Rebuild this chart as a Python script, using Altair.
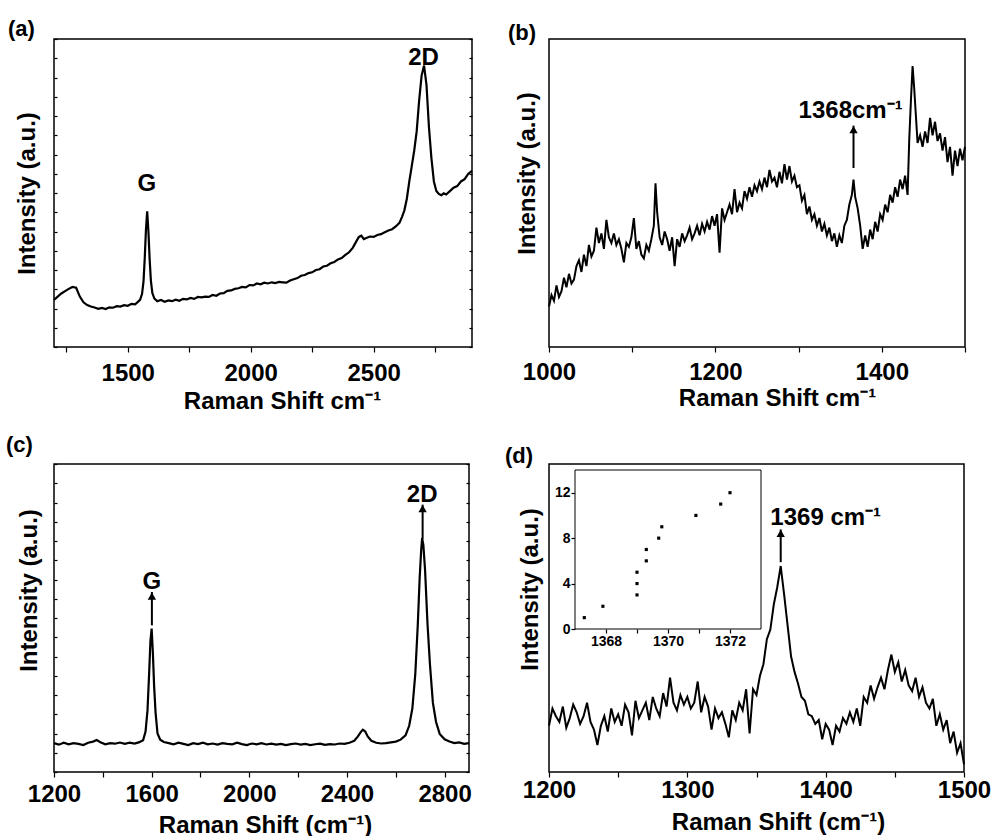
import altair as alt
import pandas as pd

FONT = "Liberation Sans"
SUP = "cm\u207b\u00b9"

# ---------------- data ----------------
A_SPEC = [(1200,2.45),(1215,2.62),(1230,2.78),(1245,2.9),(1260,3.02),(1275,3.12),(1290,3.08),(1305,2.62),
          (1320,2.32),(1335,2.18),(1350,2.1),(1365,2.05),(1380,1.98),(1395,2.03),(1410,1.97),(1425,2.06),
          (1440,2.04),(1455,2.12),(1470,2.1),(1485,2.17),(1500,2.14),(1515,2.24),(1530,2.22),(1540,2.33),
          (1550,2.45),(1558,2.75),(1564,3.4),(1569,4.6),(1574,6.1),(1579,7.05),(1584,6.0),(1589,4.55),
          (1594,3.45),(1600,2.8),(1608,2.52),(1620,2.38),(1635,2.44),(1650,2.35),(1665,2.42),(1680,2.38),
          (1695,2.46),(1710,2.4),(1725,2.5),(1740,2.47),(1755,2.55),(1770,2.5),(1785,2.6),(1800,2.58),
          (1815,2.62),(1830,2.6),(1845,2.7),(1860,2.66),(1875,2.78),(1890,2.8),(1905,2.92),(1920,2.94),
          (1935,3.02),(1950,3.05),(1965,3.12),(1980,3.1),(1995,3.22),(2010,3.2),(2025,3.3),(2040,3.26),
          (2055,3.34),(2070,3.3),(2085,3.36),(2100,3.32),(2115,3.38),(2130,3.36),(2145,3.34),(2160,3.45),
          (2175,3.52),(2190,3.58),(2205,3.7),(2220,3.74),(2235,3.84),(2250,3.88),(2265,4.0),(2280,4.04),
          (2295,4.18),(2310,4.22),(2325,4.35),(2340,4.42),(2355,4.55),(2370,4.62),(2385,4.78),(2400,4.92),
          (2415,5.15),(2430,5.5),(2440,5.72),(2450,5.78),(2460,5.6),(2470,5.66),(2485,5.74),(2500,5.72),
          (2515,5.82),(2530,5.86),(2545,5.96),(2560,6.05),(2575,6.12),(2590,6.26),(2605,6.45),(2615,6.75),
          (2625,7.1),(2635,7.7),(2645,8.6),(2655,9.4),(2665,10.2),(2675,11.2),(2685,12.8),(2695,14.1),
          (2705,14.62),(2715,13.6),(2725,11.4),(2735,9.8),(2745,8.6),(2755,8.1),(2765,7.95),(2775,7.88),
          (2785,7.98),(2795,7.92),(2810,8.1),(2825,8.28),(2840,8.36),(2855,8.6),(2870,8.72),(2885,9.0),
          (2900,9.15)]

B_SPEC = [(1000,2.1),(1003,2.7),(1006,2.4),(1009,3.2),(1012,2.6),(1015,2.9),(1018,3.6),(1021,3.1),
          (1024,3.8),(1027,3.3),(1030,3.5),(1033,4.2),(1036,4.5),(1039,3.9),(1042,4.8),(1045,4.2),
          (1048,5.3),(1051,4.7),(1054,5.0),(1057,6.2),(1060,5.4),(1063,5.9),(1066,5.1),(1069,6.6),
          (1072,5.7),(1075,5.4),(1078,5.9),(1081,5.3),(1084,5.6),(1087,5.1),(1090,4.4),(1093,5.4),
          (1096,5.2),(1099,5.7),(1102,6.7),(1105,5.1),(1108,5.5),(1111,4.8),(1114,4.6),(1117,5.3),
          (1120,5.0),(1123,5.6),(1126,6.3),(1128,8.5),(1130,7.0),(1133,5.7),(1136,5.3),(1139,6.0),
          (1142,5.6),(1145,5.0),(1148,5.7),(1151,4.2),(1154,5.6),(1157,5.2),(1160,5.9),(1163,5.5),
          (1166,5.8),(1169,6.2),(1172,5.6),(1175,5.9),(1178,6.3),(1181,5.8),(1184,6.4),(1187,6.0),
          (1190,6.5),(1193,6.1),(1196,6.8),(1199,6.3),(1202,6.9),(1205,4.9),(1208,7.2),(1211,6.6),
          (1214,7.0),(1217,7.4),(1220,6.9),(1223,8.2),(1226,7.0),(1229,7.5),(1232,7.2),(1235,8.1),
          (1238,7.7),(1241,8.3),(1244,7.8),(1247,8.4),(1250,8.1),(1253,8.6),(1256,8.2),(1259,8.8),
          (1262,8.3),(1265,9.2),(1268,8.6),(1271,8.8),(1274,8.3),(1277,9.1),(1280,8.5),(1283,9.5),
          (1286,8.7),(1289,9.4),(1292,8.6),(1295,8.9),(1298,8.3),(1301,8.4),(1304,7.6),(1307,7.9),
          (1310,6.9),(1313,7.3),(1316,6.6),(1319,6.9),(1322,6.3),(1325,6.7),(1328,6.0),(1331,6.4),
          (1334,5.8),(1337,6.2),(1340,5.5),(1343,5.9),(1346,5.2),(1349,5.8),(1352,5.4),(1355,6.3),
          (1358,6.6),(1361,7.4),(1364,7.9),(1366,8.7),(1368,7.8),(1371,7.2),(1374,6.3),(1377,5.1),
          (1380,5.8),(1383,5.2),(1386,6.1),(1389,5.6),(1392,6.5),(1395,6.0),(1398,6.9),(1401,6.6),
          (1404,7.4),(1407,7.0),(1410,7.9),(1413,7.5),(1416,8.3),(1419,7.8),(1422,8.7),(1425,8.2),
          (1428,8.9),(1431,7.9),(1433,10.8),(1435,12.8),(1437,14.6),(1439,13.4),(1441,12.0),(1443,10.6),
          (1446,11.0),(1449,10.4),(1452,11.2),(1455,10.6),(1458,11.9),(1461,11.0),(1464,11.7),(1467,10.7),
          (1470,11.1),(1473,10.2),(1476,10.9),(1479,9.6),(1482,10.4),(1485,8.9),(1488,10.2),(1491,9.4),
          (1494,10.3),(1497,9.7),(1500,10.4)]

C_SPEC = [(1200,1.5),(1220,1.42),(1240,1.52),(1260,1.44),(1280,1.5),(1300,1.46),(1320,1.4),(1340,1.52),
          (1360,1.58),(1375,1.66),(1390,1.55),(1410,1.44),(1430,1.5),(1450,1.47),(1470,1.53),(1490,1.46),
          (1510,1.52),(1530,1.48),(1550,1.55),(1565,1.65),(1575,2.1),(1583,3.2),(1590,5.2),(1595,6.8),
          (1600,7.45),(1605,6.2),(1610,4.5),(1616,3.1),(1624,2.0),(1635,1.68),(1650,1.56),(1670,1.5),
          (1690,1.44),(1710,1.52),(1730,1.46),(1750,1.4),(1770,1.5),(1790,1.45),(1810,1.52),(1830,1.44),
          (1850,1.48),(1870,1.42),(1890,1.5),(1910,1.46),(1930,1.44),(1950,1.52),(1970,1.45),(1990,1.4),
          (2010,1.48),(2030,1.44),(2050,1.5),(2070,1.43),(2090,1.47),(2110,1.42),(2130,1.46),(2150,1.4),
          (2170,1.45),(2190,1.48),(2210,1.42),(2230,1.46),(2250,1.4),(2270,1.44),(2290,1.47),(2310,1.41),
          (2330,1.45),(2350,1.43),(2370,1.48),(2390,1.46),(2410,1.52),(2430,1.62),(2445,1.85),(2455,2.05),
          (2465,2.2),(2475,2.1),(2485,1.85),(2500,1.62),(2520,1.52),(2540,1.48),(2560,1.5),(2580,1.54),
          (2600,1.58),(2620,1.68),(2640,1.9),(2655,2.4),(2668,3.3),(2680,5.1),(2690,7.6),(2698,10.1),
          (2704,11.5),(2708,12.15),(2713,11.8),(2720,10.5),(2730,7.7),(2740,5.6),(2752,3.6),(2765,2.6),
          (2780,1.98),(2800,1.7),(2820,1.58),(2840,1.5),(2860,1.54),(2880,1.46),(2900,1.5)]

D_SPEC = [(1200.0,2.4),(1202.5,3.3),(1205.0,2.9),(1207.5,2.6),(1210.0,3.4),(1212.5,2.3),(1215.0,2.8),
          (1217.5,3.5),(1220.0,3.1),(1222.5,2.5),(1225.0,2.9),(1227.5,3.6),(1230.0,2.6),(1232.5,2.2),
          (1235.0,1.4),(1237.5,2.4),(1240.0,2.9),(1242.5,2.1),(1245.0,3.3),(1247.5,2.6),(1250.0,3.0),
          (1252.5,2.4),(1255.0,3.5),(1257.5,3.1),(1260.0,1.9),(1262.5,3.7),(1265.0,2.8),(1267.5,3.2),
          (1270.0,3.6),(1272.5,2.7),(1275.0,3.9),(1277.5,3.3),(1280.0,2.9),(1282.5,4.1),(1285.0,3.4),
          (1287.5,4.9),(1290.0,3.6),(1292.5,3.2),(1295.0,4.0),(1297.5,3.5),(1300.0,3.9),(1302.5,3.3),
          (1305.0,3.6),(1307.5,4.7),(1310.0,3.1),(1312.5,3.9),(1315.0,3.4),(1317.5,2.2),(1320.0,3.3),
          (1322.5,2.8),(1325.0,3.1),(1327.5,2.5),(1330.0,1.8),(1332.5,3.2),(1335.0,2.7),(1337.5,3.6),
          (1340.0,3.2),(1342.5,4.3),(1345.0,2.0),(1347.5,4.3),(1350.0,4.0),(1352.5,5.0),(1355.0,5.6),
          (1357.5,6.9),(1360.0,7.4),(1362.5,8.7),(1365.0,9.6),(1367.5,10.7),(1370.0,9.2),(1372.5,7.6),
          (1375.0,6.0),(1377.5,5.2),(1380.0,4.6),(1382.5,3.9),(1385.0,3.7),(1387.5,3.0),(1390.0,2.9),
          (1392.5,2.5),(1395.0,2.7),(1397.5,1.7),(1400.0,2.5),(1402.5,2.2),(1405.0,1.4),(1407.5,2.4),
          (1410.0,2.1),(1412.5,2.8),(1415.0,2.5),(1417.5,3.1),(1420.0,2.6),(1422.5,3.3),(1425.0,2.4),
          (1427.5,3.9),(1430.0,3.6),(1432.5,4.5),(1435.0,3.8),(1437.5,4.4),(1440.0,4.9),(1442.5,4.3),
          (1445.0,5.3),(1447.5,6.1),(1450.0,5.2),(1452.5,5.7),(1455.0,4.7),(1457.5,5.3),(1460.0,4.5),
          (1462.5,4.2),(1465.0,4.9),(1467.5,3.9),(1470.0,4.4),(1472.5,3.6),(1475.0,3.3),(1477.5,3.8),
          (1480.0,2.4),(1482.5,3.0),(1485.0,2.2),(1487.5,2.7),(1490.0,1.5),(1492.5,2.1),(1495.0,1.0),
          (1497.5,1.5),(1500.0,0.4)]

INSET_SHIFT = [1367.3, 1367.9, 1369.0, 1369.0, 1369.0, 1369.3, 1369.3, 1369.7, 1369.8, 1370.9, 1371.7, 1372.0]
INSET_INDEX = [1, 2, 3, 4, 5, 6, 7, 8, 9, 10, 11, 12]
INSET_BOX = [{"x1": 1367, "x2": 1373, "y1": 0, "y2": 14}]

A_XTICKS = [1250, 1500, 1750, 2000, 2250, 2500, 2750]
B_XTICKS = [1000, 1100, 1200, 1300, 1400, 1500]
C_XTICKS = [1200, 1400, 1600, 1800, 2000, 2200, 2400, 2600, 2800]
D_XTICKS = [1200, 1250, 1300, 1350, 1400, 1450, 1500]
Y_TICKS = [0, 1, 2, 3, 4, 5, 6, 7, 8, 9, 10, 11, 12, 13, 14, 15, 16]
INSET_XTICKS = [1368, 1369, 1370, 1371, 1372]
INSET_YTICKS = [0, 4, 8, 12]

A_LABELS = [{"x": 1578, "y": 8.1, "text": "G"}, {"x": 2703, "y": 14.66, "text": "2D"}]
B_LABELS = [{"x": 1300, "y": 11.9, "text": "1368" + SUP}]
C_LABELS = [{"x": 1601, "y": 9.52, "text": "G"}, {"x": 2708, "y": 14.03, "text": "2D"}]
D_LABELS = [{"x": 1360, "y": 12.85, "text": "1369 " + SUP}]
B_ARROWS = [{"x": 1366, "y": 9.3, "y2": 11.5}]
C_ARROWS = [{"x": 1601, "y": 7.62, "y2": 9.35}, {"x": 2710, "y": 12.12, "y2": 13.89}]
D_ARROWS = [{"x": 1367.5, "y": 10.9, "y2": 12.6}]

# ---------------- layout ----------------
H = 308
W_A, W_B, W_C, W_D = 418, 416, 415, 415


def spec_df(pairs):
    return pd.DataFrame(pairs, columns=["x", "y"])


def x_axis(values, major, title, title_x, title_y, label_pad):
    return alt.Axis(values=values, format="d",
                    labelExpr=f"datum.value % {major} == 0 ? datum.label : ''",
                    title=title, titleX=title_x, titleY=title_y, titleBaseline="alphabetic",
                    titleAlign="center", tickSize=5, labelPadding=label_pad, labelFlush=False,
                    labelOverlap=False, grid=False, domain=False)


def y_axis(title, tx, ty, ticks):
    if ticks:
        return alt.Axis(orient="left", values=Y_TICKS, offset=-3, tickSize=3, labels=False,
                        domain=False, grid=False, title=title, titleX=tx, titleY=ty,
                        titleBaseline="alphabetic", titleAngle=-90, titleAlign="center")
    return alt.Axis(orient="left", ticks=False, labels=False, domain=False, grid=False,
                    title=title, titleX=tx, titleY=ty, titleBaseline="alphabetic",
                    titleAngle=-90, titleAlign="center")


def right_ticks():
    return alt.Axis(orient="right", values=Y_TICKS, offset=-3, tickSize=3, labels=False,
                    domain=False, grid=False, title=None)


def panel_title(txt, dx, dy):
    return alt.TitleParams(text=txt, anchor="start", frame="group", dx=dx, dy=dy, offset=0,
                           fontSize=22, font=FONT, fontWeight="bold", color="black",
                           baseline="bottom")


def annotations(xenc, yscale, yaxis, labels, arrows, align):
    layers = []
    layers.append(alt.Chart(pd.DataFrame(labels)).mark_text(
        font=FONT, fontSize=24, fontWeight="bold", color="black", align=align,
        baseline="alphabetic").encode(
        x=xenc, y=alt.Y("y:Q", scale=yscale, axis=yaxis), text="text:N"))
    if arrows:
        adf = pd.DataFrame(arrows)
        layers.append(alt.Chart(adf).mark_rule(color="black", strokeWidth=2).encode(
            x=xenc, y=alt.Y("y:Q", scale=yscale, axis=yaxis), y2="y2:Q"))
        layers.append(alt.Chart(adf).mark_point(shape="triangle-up", filled=True, size=70,
                                                color="black", opacity=1, yOffset=4).encode(
            x=xenc, y=alt.Y("y2:Q", scale=yscale, axis=yaxis)))
    return layers


ysc = alt.Scale(domain=[0, 16], nice=False, zero=False)

# ---- panel (a)
xa = alt.X("x:Q", scale=alt.Scale(domain=[1200, 2900], nice=False, zero=False),
           axis=x_axis(A_XTICKS, 500, "Raman Shift " + SUP, 228, 61, 9))
ya_ax = y_axis("Intensity (a.u.)", -23, H / 2, True)
line_a = alt.Chart(spec_df(A_SPEC)).mark_line(color="black", strokeWidth=2.2).encode(
    x=xa, y=alt.Y("y:Q", scale=ysc, axis=ya_ax))
main_a = alt.layer(line_a, *annotations(xa, ysc, ya_ax, A_LABELS, [], "center"))
right_a = alt.Chart(spec_df(A_SPEC)).mark_line(opacity=0).encode(
    x=xa, y=alt.Y("y:Q", scale=ysc, axis=right_ticks()))
pa = alt.layer(main_a, right_a).resolve_scale(y="independent").properties(
    width=W_A, height=H, title=panel_title("(a)", -46, 25))

# ---- panel (b)
xb = alt.X("x:Q", scale=alt.Scale(domain=[1000, 1500], nice=False, zero=False),
           axis=x_axis(B_XTICKS, 200, "Raman Shift " + SUP, 228, 58.5, 8))
yb_ax = y_axis("Intensity (a.u.)", -15, 134, False)
line_b = alt.Chart(spec_df(B_SPEC)).mark_line(color="black", strokeWidth=2).encode(
    x=xb, y=alt.Y("y:Q", scale=ysc, axis=yb_ax))
pb = alt.layer(line_b, *annotations(xb, ysc, yb_ax, B_LABELS, B_ARROWS, "left")).properties(
    width=W_B, height=H, title=panel_title("(b)", -41, 28))

# ---- panel (c)
xc = alt.X("x:Q", scale=alt.Scale(domain=[1200, 2900], nice=False, zero=False),
           axis=x_axis(C_XTICKS, 400, "Raman Shift (" + SUP + ")", 211, 60, 5))
yc_ax = y_axis("Intensity (a.u.)", -21, 126, True)
line_c = alt.Chart(spec_df(C_SPEC)).mark_line(color="black", strokeWidth=2.2).encode(
    x=xc, y=alt.Y("y:Q", scale=ysc, axis=yc_ax))
main_c = alt.layer(line_c, *annotations(xc, ysc, yc_ax, C_LABELS, C_ARROWS, "center"))
right_c = alt.Chart(spec_df(C_SPEC)).mark_line(opacity=0).encode(
    x=xc, y=alt.Y("y:Q", scale=ysc, axis=right_ticks()))
pc = alt.layer(main_c, right_c).resolve_scale(y="independent").properties(
    width=W_C, height=H, title=panel_title("(c)", -48, 16))

# ---- panel (d)
xd = alt.X("x:Q", scale=alt.Scale(domain=[1200, 1500], nice=False, zero=False),
           axis=x_axis(D_XTICKS, 100, "Raman Shift (" + SUP + ")", 229, 57, 1.5))
yd_ax = y_axis("Intensity (a.u.)", -12, 125, False)
line_d = alt.Chart(spec_df(D_SPEC)).mark_line(color="black", strokeWidth=2).encode(
    x=xd, y=alt.Y("y:Q", scale=ysc, axis=yd_ax))
main_d = alt.layer(line_d, *annotations(xd, ysc, yd_ax, D_LABELS, D_ARROWS, "left"))

sx_in = alt.Scale(domain=[1367, 1373], range=[26, 212], nice=False, zero=False)
sy_in = alt.Scale(domain=[0, 14], range=[165, 6], nice=False, zero=False)
ax_in_x = alt.Axis(orient="bottom", offset=-(H - 165), values=INSET_XTICKS, format="d",
                   labelExpr="datum.value % 2 == 0 ? datum.label : ''", labelFontSize=14,
                   tickSize=4, labelPadding=1, domain=False, grid=False, title=None,
                   labelFlush=False, labelOverlap=False)
ax_in_y = alt.Axis(orient="left", offset=-26, values=INSET_YTICKS, labelFontSize=14,
                   tickSize=4, labelPadding=1, domain=False, grid=False, title=None,
                   labelFlush=False, labelOverlap=False)
inset_box = alt.Chart(pd.DataFrame(INSET_BOX)).mark_rect(
    fill="white", stroke="black", strokeWidth=1).encode(
    x=alt.X("x1:Q", scale=sx_in, axis=ax_in_x), x2="x2:Q",
    y=alt.Y("y1:Q", scale=sy_in, axis=ax_in_y), y2="y2:Q")
inset_pts = alt.Chart(pd.DataFrame({"x": INSET_SHIFT, "y": INSET_INDEX})).mark_square(
    size=10, color="black", opacity=1).encode(
    x=alt.X("x:Q", scale=sx_in, axis=ax_in_x),
    y=alt.Y("y:Q", scale=sy_in, axis=ax_in_y))
inset = alt.layer(inset_box, inset_pts)
pd_ = alt.layer(main_d, inset).resolve_scale(x="independent", y="independent").properties(
    width=W_D, height=H, title=panel_title("(d)", -44, 26))

chart = alt.concat(pa, pb, pc, pd_, columns=2, spacing={"row": 117, "column": 77},
                   bounds="flush").properties(
    padding={"left": 5, "top": 17, "right": 0, "bottom": 0},
    background="white",
).configure_view(stroke="black", strokeWidth=1.5).configure_axis(
    labelFont=FONT, labelFontSize=24, labelFontWeight="bold", labelColor="black",
    titleFont=FONT, titleFontSize=24, titleFontWeight="bold", titleColor="black",
    tickColor="black", tickWidth=1.2)

chart.save("out.html", embed_options={"renderer": "svg", "actions": False})
